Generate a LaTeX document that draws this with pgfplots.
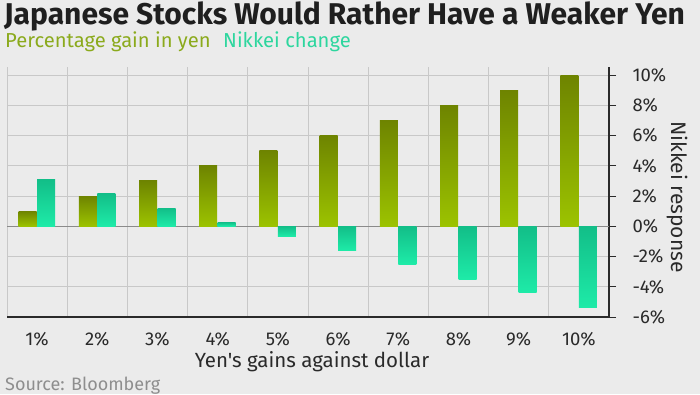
\documentclass[border=0pt]{standalone}
\usepackage{pgfplots}
\pgfplotsset{compat=1.18}
\usepackage{fontspec}
\setmainfont{Fira Sans}[Ligatures=TeXOff]
\definecolor{bg}{HTML}{EBEBEB}
\definecolor{gridc}{HTML}{C8C8C8}
\definecolor{zeroc}{HTML}{8A8A8A}
\definecolor{gtop}{HTML}{6E8400}
\definecolor{gbot}{HTML}{9CC300}
\definecolor{ttop}{HTML}{12BE88}
\definecolor{tbot}{HTML}{1EEBA8}
\definecolor{subg}{HTML}{8BAA1C}
\definecolor{subt}{HTML}{2DD69E}
\definecolor{axc}{HTML}{2A2A2A}
\definecolor{srcc}{HTML}{8E8E8E}
\begin{document}
\begin{tikzpicture}[x=1pt,y=1pt]
\fill[bg] (0,0) rectangle (700,394);
\begin{axis}[
  at={(7pt,77pt)}, anchor=south west,
  scale only axis, width=602pt, height=250pt,
  xmin=0.5, xmax=10.5, ymin=-6, ymax=10.53,
  ybar, bar width=18pt,
  gbar/.style={draw=none, top color=gtop, bottom color=gbot, bar shift=-9.5pt},
  tbar/.style={draw=none, top color=ttop, bottom color=tbot, bar shift=9pt},
  axis x line*=bottom, axis y line*=right,
  axis line style={axc, line width=1.2pt},
  xtick={1,...,10},
  xticklabels={1\%,2\%,3\%,4\%,5\%,6\%,7\%,8\%,9\%,10\%},
  x tick style={draw=none},
  minor xtick={0.5,1.5,...,10.5},
  xminorgrids=true,
  minor x tick style={draw=none},
  ytick={-6,-4,...,10},
  yticklabels={-6\%,-4\%,-2\%,0\%,2\%,4\%,6\%,8\%,10\%},
  ytick pos=right,
  yticklabel pos=right,
  tick align=outside,
  major tick length=7pt,
  y tick style={axc, line width=0.8pt},
  ymajorgrids=true,
  grid style={gridc, line width=0.8pt},
  minor grid style={gridc, line width=0.8pt},
  extra y ticks={0},
  extra y tick labels={},
  extra y tick style={grid style={zeroc, line width=1pt}},
  ticklabel style={font=\fontsize{18.5}{20}\selectfont, text=axc},
  xticklabel style={anchor=base, yshift=-21pt},
  yticklabel style={anchor=west, xshift=13pt},
]
% Percentage gain in yen
\addplot[gbar] coordinates {(1,1)};
\addplot[gbar] coordinates {(2,2)};
\addplot[gbar] coordinates {(3,3)};
\addplot[gbar] coordinates {(4,4)};
\addplot[gbar] coordinates {(5,5)};
\addplot[gbar] coordinates {(6,6)};
\addplot[gbar] coordinates {(7,7)};
\addplot[gbar] coordinates {(8,8)};
\addplot[gbar] coordinates {(9,9)};
\addplot[gbar] coordinates {(10,10)};
% Nikkei change
\addplot[tbar] coordinates {(1,3.1)};
\addplot[tbar] coordinates {(2,2.17)};
\addplot[tbar] coordinates {(3,1.2)};
\addplot[tbar] coordinates {(4,0.27)};
\addplot[tbar] coordinates {(5,-0.66)};
\addplot[tbar] coordinates {(6,-1.6)};
\addplot[tbar] coordinates {(7,-2.5)};
\addplot[tbar] coordinates {(8,-3.5)};
\addplot[tbar] coordinates {(9,-4.4)};
\addplot[tbar] coordinates {(10,-5.4)};
\end{axis}
\node[anchor=base west, inner sep=0, font=\bfseries\fontsize{30}{32}\selectfont, text=black!88] at (4,369) {Japanese Stocks Would Rather Have a Weaker Yen};
\node[anchor=base west, inner sep=0, font=\fontsize{20.2}{22}\selectfont, text=subg] at (5,346) {Percentage gain in yen};
\node[anchor=base west, inner sep=0, font=\fontsize{20.2}{22}\selectfont, text=subt] at (223,346) {Nikkei change};
\node[anchor=base, inner sep=0, font=\fontsize{20.5}{22}\selectfont, text=axc] at (312,27) {Yen's gains against dollar};
\node[anchor=base west, inner sep=0, font=\fontsize{18}{20}\selectfont, text=srcc] at (5,4) {Source: Bloomberg};
\node[rotate=-90, inner sep=0, font=\fontsize{21}{23}\selectfont, text=axc] at (677,197) {Nikkei response};
\end{tikzpicture}
\end{document}
